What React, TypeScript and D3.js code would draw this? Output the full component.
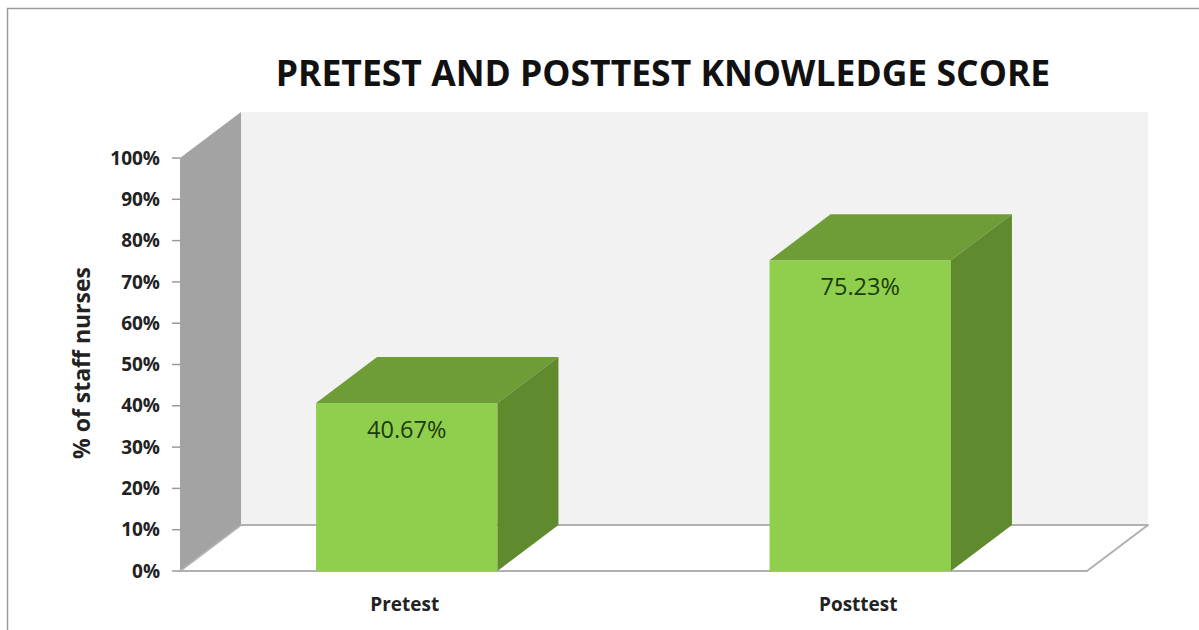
import React, { useEffect, useRef } from 'react';
import * as d3 from 'd3';

const categories = ['Pretest', 'Posttest'];
const values = [40.67, 75.23];
const valueLabels = ['40.67%', '75.23%'];
const yTicks = [0, 10, 20, 30, 40, 50, 60, 70, 80, 90, 100];

const App: React.FC = () => {
  const svgRef = useRef<SVGSVGElement>(null);

  useEffect(() => {
    if (!svgRef.current) return;
    const svg = d3.select(svgRef.current);
    svg.selectAll('*').remove();

    const width = 1199;
    const height = 630;
    const left = 180;
    const right = 1087;
    const bottom = 571;
    const top = 158;
    // depth offset of the 3D box
    const dx = 61;
    const dy = -46;

    const x = d3.scaleBand<string>()
      .domain(categories)
      .range([left, right])
      .paddingInner(0.6)
      .paddingOuter(0.3);

    const y = d3.scaleLinear().domain([0, 100]).range([bottom, top]);

    svg.attr('width', width).attr('height', height);

    svg.append('rect')
      .attr('width', width).attr('height', height)
      .attr('fill', '#ffffff');

    // outer frame (top + left only visible)
    svg.append('path')
      .attr('d', `M7.5 ${height} L7.5 8.5 L${width} 8.5`)
      .attr('fill', 'none')
      .attr('stroke', '#9a9a9a')
      .attr('stroke-width', 1.5);

    const poly = (pts: [number, number][]) => 'M' + pts.map(p => p.join(',')).join('L') + 'Z';

    // back wall
    svg.append('path')
      .attr('d', poly([[left + dx, y(100) + dy], [1148, y(100) + dy], [1148, bottom + dy], [left + dx, bottom + dy]]))
      .attr('fill', '#f2f2f2');

    // side wall
    svg.append('path')
      .attr('d', poly([[left, y(100)], [left + dx, y(100) + dy], [left + dx, bottom + dy], [left, bottom]]))
      .attr('fill', '#a3a3a3');

    // floor
    svg.append('path')
      .attr('d', poly([[left, bottom], [left + dx, bottom + dy], [1148, bottom + dy], [right, bottom]]))
      .attr('fill', '#ffffff')
      .attr('stroke', '#b0b0b0')
      .attr('stroke-width', 2)
      .attr('stroke-linejoin', 'round');

    // y ticks
    const ticks = svg.append('g');
    yTicks.forEach(t => {
      ticks.append('line')
        .attr('x1', left - 8).attr('x2', left)
        .attr('y1', y(t)).attr('y2', y(t))
        .attr('stroke', '#9a9a9a').attr('stroke-width', 1.5);
      ticks.append('text')
        .attr('x', 160).attr('y', y(t))
        .attr('dy', '0.35em')
        .attr('text-anchor', 'end')
        .style('font-family', '"Open Sans", sans-serif')
        .style('font-weight', 'bold')
        .style('font-size', '19px')
        .style('fill', '#222')
        .text(`${t}%`);
    });

    // bars
    categories.forEach((c, i) => {
      const x0 = x(c)!;
      const x1 = x0 + x.bandwidth();
      const yt = y(values[i]);
      const g = svg.append('g');
      g.append('rect')
        .attr('x', x0).attr('y', yt)
        .attr('width', x.bandwidth()).attr('height', bottom - yt)
        .attr('fill', '#8fcf4d');
      g.append('path')
        .attr('d', poly([[x0, yt], [x0 + dx, yt + dy], [x1 + dx, yt + dy], [x1, yt]]))
        .attr('fill', '#6e9d38');
      g.append('path')
        .attr('d', poly([[x1, yt], [x1 + dx, yt + dy], [x1 + dx, bottom + dy], [x1, bottom]]))
        .attr('fill', '#5f8a2e');
      g.append('text')
        .attr('x', x0 + x.bandwidth() / 2).attr('y', yt + 35)
        .attr('text-anchor', 'middle')
        .style('font-family', '"Open Sans", sans-serif')
        .style('font-size', '23.5px')
        .style('fill', '#1d3a0c')
        .text(valueLabels[i]);
      svg.append('text')
        .attr('x', x0 + x.bandwidth() / 2 - 2).attr('y', 611)
        .attr('text-anchor', 'middle')
        .style('font-family', '"Open Sans", sans-serif')
        .style('font-weight', 'bold')
        .style('font-size', '19px')
        .style('fill', '#222')
        .text(c);
    });

    // title
    svg.append('text')
      .attr('x', 663).attr('y', 86)
      .attr('text-anchor', 'middle')
      .style('font-family', '"Open Sans", sans-serif')
      .style('font-weight', 'bold')
      .style('font-size', '35.5px')
      .style('fill', '#111')
      .text('PRETEST AND POSTTEST KNOWLEDGE SCORE');

    // y axis title
    svg.append('text')
      .attr('transform', `translate(90,363) rotate(-90)`)
      .attr('text-anchor', 'middle')
      .style('font-family', '"Open Sans", sans-serif')
      .style('font-weight', 'bold')
      .style('font-size', '23px')
      .style('fill', '#222')
      .text('% of staff nurses');
  }, []);

  return (
    <svg ref={svgRef} style={{ position: 'absolute', left: 0, top: 0, display: 'block' }}></svg>
  );
};

export default App;
